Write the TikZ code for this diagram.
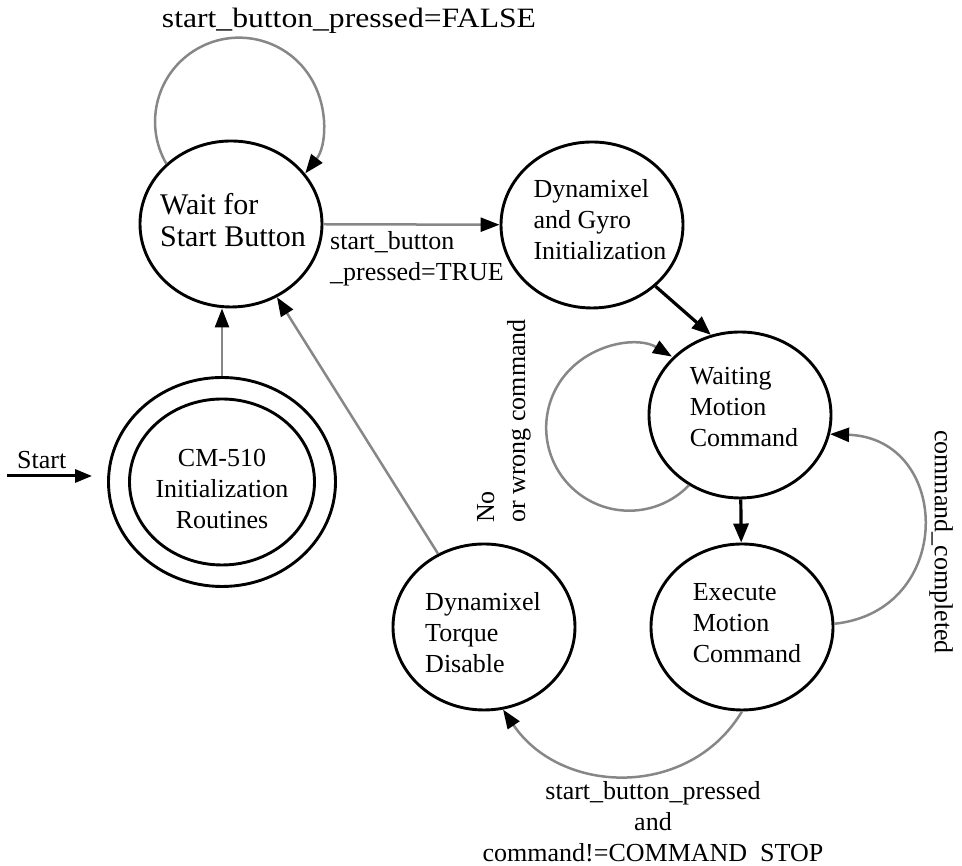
\documentclass[tikz,border=0pt]{standalone}
\usepackage{fontspec}
\setmainfont{Liberation Serif}
\newfontfamily\widefont{Liberation Serif}[FakeStretch=1.13]
\usetikzlibrary{arrows.meta,shapes.geometric}
\definecolor{edgegray}{HTML}{878787}
\begin{document}
\begin{tikzpicture}[x=1pt,y=1pt,
  txt/.style={font=\fontsize{26}{31}\selectfont},
  state/.style={ellipse, draw=black, line width=2.9pt, minimum width=182pt,
    minimum height=166pt, inner sep=0pt},
  stext/.style={txt, inner sep=0pt, align=left},
  lbl/.style={txt, inner sep=0pt},
  gedge/.style={draw=edgegray, line width=2.5pt,
    -{Triangle[length=19pt,width=14pt,color=black,fill=black]}},
  bedge/.style={draw=black, line width=3.2pt, -{Triangle[length=19pt,width=15pt]}},
]
\useasboundingbox (0,0) rectangle (962,866);

% states
\node[state] (wait) at (231,642) {};
\node[state] (dyn) at (592,641) {};
\node[state, minimum width=227pt, minimum height=209pt] (cmout) at (222,384) {};
\node[state, minimum width=185pt, minimum height=166pt] (cm) at (222,384) {};
\node[state] (waiting) at (740,451) {};
\node[state] (execute) at (742,239) {};
\node[state] (torque) at (484,239) {};

% state texts
\node[stext, font=\fontsize{30}{32}\selectfont] (waittxt) at (233,646) {Wait for\\Start Button};
\node[stext] (dyntxt) at (600,646) {Dynamixel\\and Gyro\\Initialization};
\node[stext, align=center] (cmtxt) at (222,377) {CM-510\\Initialization\\Routines};
\node[stext] (waitingtxt) at (744,459) {Waiting\\Motion\\Command};
\node[stext] (executetxt) at (747,243) {Execute\\Motion\\Command};
\node[stext] (torquetxt) at (483,233) {Dynamixel\\Torque\\Disable};

% start arrow
\coordinate (s) at (7,390);
\node[lbl, anchor=base west] (startlbl) at (17,397) {Start};
\draw[line width=3pt, -{Triangle[length=17pt,width=13pt]}, shorten >=15pt] (s) -- (s -| cmout.west);

% connectors
\draw[gedge] (cmout.north) -- (cmout.north |- wait.south);
\draw[gedge] (torque) -- (wait);
\draw[gedge] (wait) -- (dyn);
\draw[bedge] (dyn.-44) -- (waiting.110);
\draw[bedge] (waiting) -- (execute);
\draw[gedge] (wait.137) arc[start angle=210, end angle=-38, radius=84];
\draw[gedge] (waiting.234) arc[start angle=-44, end angle=-301, radius=83];
\draw[gedge] (execute.2) to[out=6, in=-2, distance=122] (waiting.-12);
\draw[gedge] (execute.south) to[out=239, in=-56, distance=103] (torque.-77);

% labels
\node[lbl, anchor=base, font=\widefont\fontsize{28}{31}\selectfont] (lfalse) at (349,838) {start\_button\_pressed=FALSE};
\node[lbl, align=left, anchor=west] (ltrue) at (330,607) {start\_button\\\_pressed=TRUE};
\node[lbl, align=left, rotate=90, anchor=west] (lwrong) at (504,343) {No\\or wrong command};
\node[lbl, rotate=-90] (lcompleted) at (941,324) {command\_completed};
\node[lbl, align=center] (lstop) at (653,44) {start\_button\_pressed\\and\\command!=COMMAND\hspace{0.5em}STOP};
\end{tikzpicture}
\end{document}
